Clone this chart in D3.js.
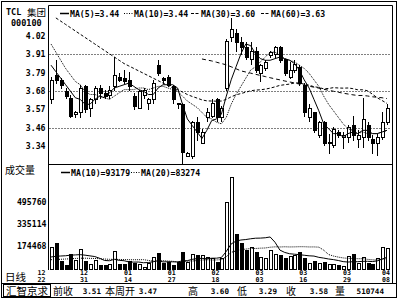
<!DOCTYPE html>
<html><head><meta charset="utf-8">
<script src="https://cdn.jsdelivr.net/npm/d3@7"></script>
<style>
html,body{margin:0;padding:0;background:#fff;}
svg{display:block;}
.mono{font-family:"DejaVu Sans Mono",monospace;font-weight:bold;fill:#000;}
.cjk{font-family:"Noto Sans CJK SC",sans-serif;fill:#000;}
</style></head><body>
<svg id="chart" width="400" height="300"></svg>
<script>
// daily bars, TCL 集团 000100
const dates = ["12/22","12/23","12/24","12/27","12/28","12/29","12/30","12/31",
  "01/04","01/05","01/06","01/07","01/10","01/11","01/12","01/13","01/14",
  "01/17","01/18","01/19","01/20","01/21","01/24","01/25","01/26","01/27","01/28","01/31",
  "02/01","02/02","02/03","02/04","02/16","02/17","02/18",
  "02/21","02/22","02/23","02/24","02/25","02/28",
  "03/01","03/02","03/03","03/04","03/07","03/08","03/09","03/10","03/11",
  "03/14","03/15","03/16","03/17","03/18","03/21","03/22","03/23","03/24","03/25",
  "03/28","03/29","03/30","03/31","04/01","04/04","04/05","04/06","04/07","04/08"];
const labelIdx = [0, 7, 16, 25, 34, 43, 52, 61, 69];

const open = [3.63,3.78,3.75,3.68,3.64,3.54,3.55,3.71,3.58,3.63,
  3.70,3.67,3.66,3.71,3.77,3.76,3.75,3.65,3.58,3.66,
  3.61,3.63,3.84,3.76,3.77,3.71,3.61,3.60,3.28,3.28,
  3.49,3.36,3.52,3.53,3.63,3.52,3.70,4.01,4.04,3.98,
  3.95,3.88,3.93,3.79,3.82,3.90,3.91,3.95,3.88,3.77,
  3.81,3.83,3.72,3.52,3.55,3.41,3.49,3.36,3.35,3.43,
  3.40,3.40,3.47,3.39,3.40,3.47,3.39,3.36,3.40,3.49];
const high = [3.77,3.87,3.76,3.70,3.66,3.56,3.72,3.72,3.64,3.71,
  3.72,3.69,3.71,3.89,3.79,3.81,3.80,3.67,3.69,3.70,
  3.64,3.75,3.87,3.77,3.78,3.72,3.61,3.61,3.31,3.50,
  3.52,3.45,3.58,3.63,3.64,3.59,4.00,4.13,4.06,4.01,
  3.98,3.98,3.95,3.85,3.87,3.93,3.96,3.96,3.88,3.86,
  3.87,3.84,3.73,3.60,3.55,3.50,3.50,3.42,3.46,3.44,
  3.43,3.47,3.53,3.44,3.64,3.49,3.41,3.42,3.55,3.60];
const low = [3.61,3.73,3.70,3.64,3.52,3.52,3.52,3.55,3.53,3.61,
  3.64,3.64,3.64,3.69,3.74,3.73,3.69,3.57,3.58,3.64,
  3.57,3.61,3.78,3.73,3.71,3.61,3.58,3.24,3.28,3.27,
  3.38,3.36,3.50,3.52,3.50,3.50,3.69,3.99,3.93,3.91,
  3.88,3.85,3.80,3.74,3.81,3.89,3.89,3.86,3.78,3.76,
  3.80,3.72,3.53,3.50,3.43,3.40,3.35,3.30,3.34,3.40,
  3.33,3.37,3.38,3.34,3.34,3.38,3.30,3.29,3.39,3.48];
const close = [3.75,3.75,3.72,3.65,3.53,3.55,3.70,3.57,3.63,3.70,
  3.67,3.65,3.69,3.78,3.75,3.74,3.71,3.59,3.68,3.69,
  3.63,3.73,3.79,3.75,3.72,3.63,3.60,3.31,3.30,3.49,
  3.43,3.43,3.55,3.61,3.52,3.58,3.99,4.06,3.98,3.95,
  3.89,3.93,3.81,3.84,3.86,3.92,3.95,3.87,3.79,3.81,
  3.85,3.73,3.55,3.58,3.44,3.49,3.36,3.37,3.45,3.41,
  3.41,3.46,3.41,3.41,3.51,3.40,3.36,3.40,3.49,3.58];
const volume = [165800,195000,62100,36500,115400,73000,153300,65700,40200,73000,
  36500,36500,43800,140900,42400,42400,65700,52600,45300,21900,
  53300,92700,121900,48900,56200,36500,58400,133600,58400,115400,
  111700,109500,92700,85400,60600,87600,498700,681300,262900,195000,
  146000,165800,133600,92700,85400,146000,114600,109500,89800,102200,
  109500,133600,89800,53300,65700,53300,60600,43800,43800,36500,
  29200,102200,116800,53300,92700,53300,43800,85000,165000,163000];

const ma5 = [3.84,3.80,3.76,3.72,3.68,3.64,3.63,3.60,3.60,3.63,
  3.65,3.64,3.67,3.70,3.71,3.72,3.73,3.71,3.69,3.68,
  3.66,3.66,3.70,3.72,3.72,3.72,3.70,3.60,3.51,3.47,
  3.43,3.39,3.44,3.50,3.51,3.54,3.65,3.75,3.83,3.91,
  3.97,3.96,3.91,3.88,3.87,3.87,3.88,3.89,3.88,3.87,
  3.85,3.81,3.75,3.70,3.63,3.56,3.48,3.45,3.42,3.42,
  3.40,3.42,3.43,3.42,3.44,3.44,3.42,3.42,3.43,3.44];
const ma10 = [3.97,3.92,3.87,3.82,3.78,3.74,3.72,3.68,3.66,3.66,
  3.65,3.64,3.63,3.65,3.67,3.69,3.69,3.69,3.70,3.70,
  3.69,3.70,3.71,3.71,3.70,3.69,3.68,3.65,3.62,3.60,
  3.58,3.55,3.52,3.51,3.49,3.48,3.52,3.60,3.66,3.71,
  3.76,3.81,3.83,3.86,3.89,3.92,3.92,3.90,3.88,3.87,
  3.86,3.84,3.82,3.79,3.75,3.71,3.65,3.60,3.56,3.52,
  3.48,3.45,3.44,3.42,3.43,3.42,3.42,3.42,3.43,3.44];
const ma30 = [null,4.13,4.11,4.09,4.07,4.05,4.03,4.01,3.99,3.97,
  3.95,3.93,3.91,3.89,3.87,3.85,3.835,3.82,3.805,3.79,
  3.775,3.76,3.745,3.73,3.715,3.70,3.69,3.675,3.66,3.648,
  3.638,3.627,3.621,3.620,3.619,3.620,3.630,3.646,3.658,3.666,
  3.674,3.683,3.687,3.689,3.693,3.699,3.707,3.716,3.720,3.724,
  3.731,3.731,3.723,3.717,3.708,3.703,3.695,3.697,3.702,3.700,
  3.699,3.700,3.696,3.689,3.689,3.683,3.662,3.640,3.623,3.605];
const ma60 = [null,null,null,null,null,null,null,null,null,null,
  null,null,null,null,null,null,null,null,null,null,
  null,null,null,null,null,null,null,null,null,null,
  null,3.878,3.872,3.866,3.858,3.850,3.842,3.830,3.818,3.805,
  3.798,3.791,3.784,3.777,3.770,3.763,3.756,3.750,3.743,3.737,
  3.731,3.724,3.718,3.711,3.705,3.699,3.692,3.686,3.680,3.674,
  3.668,3.663,3.658,3.654,3.654,3.651,3.646,3.643,3.640,3.635];
const volMa10 = [95000,100000,102000,104000,108000,110000,112000,108000,103000,98000,
  85100,69300,67500,77900,70600,67500,58800,57500,58000,52900,
  54500,60100,67900,58700,60100,59600,58800,66900,68200,77500,
  83400,85100,82200,85800,86300,91400,135500,190200,210700,218700,
  222100,227700,231800,232600,235000,240800,202400,145300,128000,118700,
  115100,111900,107500,103500,101600,92300,86900,80300,75700,69200,
  61100,57900,60600,60600,63300,63300,61600,66300,80300,93179];
const volMa20 = [75000,77000,78000,80000,82000,84000,86000,86000,85000,84000,
  82000,80000,78000,78000,77000,76000,75000,75000,75000,75500,
  69800,64700,67700,68300,65300,63500,58800,62200,63100,65200,
  69000,72600,75100,72300,73200,75500,97200,128600,139500,148100,
  152600,156400,157000,159200,160600,166100,168900,167800,169300,168100,
  168600,169800,169700,168000,168300,166600,144600,112800,101900,94000,
  88100,84900,84000,82100,82400,77800,74300,73000,77500,83274];

const priceTicks = [3.344, 3.4565, 3.569, 3.6815, 3.794, 3.9065, 4.019];
const gridTicks = [3.4565, 3.6815, 3.9065];
const volTicks = [174468, 335114, 495760];
const priceLegend = ["MA(5)=3.44", "MA(10)=3.44", "MA(30)=3.60", "MA(60)=3.63"];
const volLegend = ["MA(10)=93179", "MA(20)=83274"];
const infoLabels = ["前收", "本周开", "高", "低", "收", "量"];
const infoValues = ["3.51", "3.47", "3.60", "3.29", "3.58", "510744"];

const svg = d3.select("#chart");
const L = 48.5, R = 392.5, pTop = 5.5, sep = 164.5, vBase = 270;

const x = d3.scaleLinear().domain([0, dates.length - 1]).range([51, 387]);
const y = d3.scaleLinear().domain([3.344, 4.019]).range([146, 36]);
const yv = d3.scaleLinear().domain([0, 495760]).range([vBase, 202]);
const px = i => Math.round(x(i));
const snap = v => Math.round(v) + 0.5;

const defs = svg.append("defs");
defs.append("clipPath").attr("id", "cp").append("rect")
  .attr("x", L + 0.5).attr("y", pTop + 0.5).attr("width", R - L - 1).attr("height", sep - pTop - 1);
defs.append("clipPath").attr("id", "cv").append("rect")
  .attr("x", L + 0.5).attr("y", sep + 0.5).attr("width", R - L - 1).attr("height", vBase - sep);

// frame
const ln = (x1, y1, x2, y2) => svg.append("line")
  .attr("x1", x1).attr("y1", y1).attr("x2", x2).attr("y2", y2)
  .attr("stroke", "#000").attr("stroke-width", 1);
svg.append("rect").attr("x", 1.5).attr("y", 1.5).attr("width", 395).attr("height", 296)
  .attr("fill", "none").attr("stroke", "#000");
ln(L, pTop, R, pTop);
ln(L, pTop, L, vBase);
ln(R, pTop, R, 283.5);
ln(L, sep, R, sep);
ln(1.5, 283.5, 396.5, 283.5);
svg.append("rect").attr("x", 3.5).attr("y", 284.5).attr("width", 47).attr("height", 12)
  .attr("fill", "none").attr("stroke", "#000");

// price grid
svg.append("g").selectAll("line").data(gridTicks).join("line")
  .attr("x1", L + 1).attr("x2", R - 1)
  .attr("y1", d => snap(y(d))).attr("y2", d => snap(y(d)))
  .attr("stroke", "#000").attr("stroke-dasharray", "1,2");

// candles
const cg = svg.append("g").attr("clip-path", "url(#cp)");
const idx = d3.range(dates.length);
cg.selectAll("line.wick").data(idx).join("line").attr("class", "wick")
  .attr("x1", i => px(i) + 0.5).attr("x2", i => px(i) + 0.5)
  .attr("y1", i => Math.round(y(high[i]))).attr("y2", i => Math.round(y(low[i])) + 1)
  .attr("stroke", "#000");
cg.selectAll("rect").data(idx).join("rect")
  .attr("x", i => px(i) - 0.5).attr("width", 3)
  .attr("y", i => snap(y(Math.max(open[i], close[i]))))
  .attr("height", i => Math.max(1, snap(y(Math.min(open[i], close[i]))) - snap(y(Math.max(open[i], close[i])))))
  .attr("fill", i => close[i] >= open[i] ? "#fff" : "#000")
  .attr("stroke", "#000");

// moving averages
const maLine = d3.line().defined(d => d[1] != null).x(d => x(d[0])).y(d => y(d[1]));
const maSeries = [
  { data: ma5, dash: null },
  { data: ma10, dash: "1,1" },
  { data: ma30, dash: "3,2" },
  { data: ma60, dash: "4,3" },
];
cg.selectAll("path.ma").data(maSeries).join("path").attr("class", "ma")
  .attr("fill", "none").attr("stroke", "#000").attr("stroke-width", 1)
  .attr("stroke-dasharray", d => d.dash)
  .attr("d", d => maLine(d.data.map((v, i) => [i, v])));

// volume
const vg = svg.append("g").attr("clip-path", "url(#cv)");
vg.selectAll("rect").data(idx).join("rect")
  .attr("x", i => px(i) - 0.5).attr("width", 3)
  .attr("y", i => snap(yv(volume[i])))
  .attr("height", i => vBase - 0.5 - snap(yv(volume[i])))
  .attr("fill", i => close[i] >= open[i] ? "#fff" : "#000")
  .attr("stroke", "#000");
const vLine = d3.line().x(d => x(d[0])).y(d => yv(d[1]));
vg.selectAll("path").data([{ data: volMa10, dash: null }, { data: volMa20, dash: "1,1" }]).join("path")
  .attr("fill", "none").attr("stroke", "#000")
  .attr("stroke-dasharray", d => d.dash)
  .attr("d", d => vLine(d.data.map((v, i) => [i, v])));

// axis labels
const fmt2 = d3.format(".2f");
svg.append("g").selectAll("text").data(priceTicks).join("text").attr("class", "mono")
  .attr("x", 45.5).attr("y", d => y(d)).attr("dy", "0.35em")
  .attr("text-anchor", "end").attr("font-size", 8.2).text(d => fmt2(d));
svg.append("g").selectAll("text").data(volTicks).join("text").attr("class", "mono")
  .attr("x", 46.5).attr("y", d => yv(d)).attr("dy", "0.35em")
  .attr("text-anchor", "end").attr("font-size", 8.2).text(d => d);

const dl = svg.append("g").selectAll("g").data(labelIdx).join("g");
dl.append("text").attr("class", "mono").attr("font-size", 6.6)
  .attr("x", (d, k) => k === 0 ? 45.5 : x(d) - 1)
  .attr("text-anchor", (d, k) => k === 0 ? "end" : "middle")
  .attr("y", 274.5).text(d => dates[d].split("/")[0]);
dl.append("text").attr("class", "mono").attr("font-size", 6.6)
  .attr("x", (d, k) => k === 0 ? 45.5 : x(d) - 1)
  .attr("text-anchor", (d, k) => k === 0 ? "end" : "middle")
  .attr("y", 281.5).text(d => dates[d].split("/")[1]);

// titles
svg.append("text").attr("class", "mono").attr("x", 6).attr("y", 15).attr("font-size", 8.5).text("TCL");
svg.append("text").attr("class", "cjk").attr("x", 27).attr("y", 15.5).attr("font-size", 9.5).text("集团");
svg.append("text").attr("class", "mono").attr("x", 11).attr("y", 26).attr("font-size", 8.5).text("000100");
svg.append("text").attr("class", "cjk").attr("x", 5).attr("y", 174).attr("font-size", 10).text("成交量");
svg.append("text").attr("class", "cjk").attr("x", 5).attr("y", 281).attr("font-size", 10.5).text("日线");

// legends
const legendMark = (gx, gy, dash) => svg.append("line")
  .attr("x1", gx).attr("x2", gx + 9).attr("y1", gy).attr("y2", gy)
  .attr("stroke", "#000").attr("stroke-width", dash ? 1 : 1.5).attr("stroke-dasharray", dash);
const pLegX = [60, 124, 191, 261], pDash = [null, "1,1.5", "3,1.5", "3,1.5"];
priceLegend.forEach((t, k) => {
  legendMark(pLegX[k], 13.5, pDash[k]);
  svg.append("text").attr("class", "mono").attr("x", pLegX[k] + 10).attr("y", 16.5)
    .attr("font-size", 8.2).text(t);
});
const vLegX = [61, 131], vDash = [null, "1,1.5"];
volLegend.forEach((t, k) => {
  legendMark(vLegX[k], 172.5, vDash[k]);
  svg.append("text").attr("class", "mono").attr("x", vLegX[k] + 10).attr("y", 175.5)
    .attr("font-size", 8.2).text(t);
});

// info row
svg.append("text").attr("class", "cjk").attr("x", 6).attr("y", 295).attr("font-size", 10.5).text("汇智京求");
const infoLabX = [53, 105, 188, 237, 286, 335];
const infoValX = [101, 157, 229, 277, 328, 384];
infoLabels.forEach((t, k) => {
  svg.append("text").attr("class", "cjk").attr("x", infoLabX[k]).attr("y", 295)
    .attr("font-size", 10).text(t);
  svg.append("text").attr("class", "mono").attr("x", infoValX[k]).attr("y", 294)
    .attr("text-anchor", "end").attr("font-size", 7.6).text(infoValues[k]);
});
</script></body></html>
